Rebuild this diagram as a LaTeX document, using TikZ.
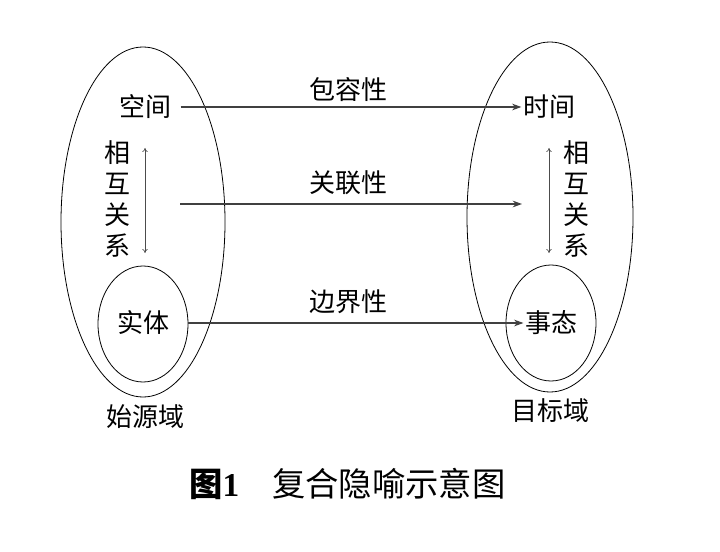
\documentclass[tikz,border=0pt]{standalone}
\usepackage{fontspec}
\setmainfont{Liberation Serif}
\newfontfamily\cjk{Noto Sans CJK SC}
\usetikzlibrary{arrows.meta}
\tikzset{
  lbl/.style={font=\cjk\fontsize{19.5}{21}\selectfont, inner sep=1pt},
  vlbl/.style={font=\cjk\fontsize{19.5}{23.3}\selectfont, align=center, inner sep=1pt},
  dom/.style={draw, line width=0.6pt},
  maparrow/.style={draw=black!75, line width=1pt, -{Stealth[length=7pt,width=5pt]}},
  relarrow/.style={draw=black!70, line width=0.5pt, {To[length=3pt,width=4pt]}-{To[length=3pt,width=4pt]}}
}
\begin{document}
\begin{tikzpicture}[x=0.75pt,y=-0.75pt]
\useasboundingbox (0,0) rectangle (720,552);
% domains
\draw[dom] (143,222) ellipse [x radius=82, y radius=175];
\draw[dom] (143,324) ellipse [x radius=45, y radius=58];
\draw[dom] (550,217) ellipse [x radius=83, y radius=175];
\draw[dom] (551,323) ellipse [x radius=45, y radius=58];
% nodes
\node[lbl] (kj) at (145,107) {空间};
\node[lbl] (sj) at (549,107) {时间};
\node[lbl] (st) at (143,323) {实体};
\node[lbl] (ss) at (551,323) {事态};
\node[vlbl] (relL) at (117,199) {相\\互\\关\\系};
\node[vlbl] (relR) at (576,199) {相\\互\\关\\系};
\node[lbl] (src) at (145,417) {始源域};
\node[lbl] (tgt) at (550,411) {目标域};
% labels on mappings
\node[lbl] (bxr) at (348,90) {包容性};
\node[lbl] (gll) at (348,183) {关联性};
\node[lbl] (bjx) at (348,302) {边界性};
% coordinates
\coordinate (mA) at (180,204);
\coordinate (mB) at (522,204);
\coordinate (vLa) at (145,148);
\coordinate (vLb) at (145,253);
\coordinate (vRa) at (549,148);
\coordinate (vRb) at (549,253);
% arrows
\draw[maparrow] (kj.east) ++(6pt,0) -- (sj.west);
\draw[maparrow] (mA) -- (mB);
\draw[maparrow, line width=0.8pt] (st.east) ++(13pt,0) -- (ss.west);
\draw[relarrow] (vLa) -- (vLb);
\draw[relarrow] (vRa) -- (vRb);
% caption
\node[inner sep=0pt, anchor=base west] (cap1) at (189,496) {\fontsize{25}{27}\selectfont\textbf{{\cjk 图}1}};
\node[inner sep=0pt, anchor=base west] (cap2) at (272,496) {\cjk\fontsize{25}{27}\selectfont 复合隐喻示意图};
\end{tikzpicture}
\end{document}
